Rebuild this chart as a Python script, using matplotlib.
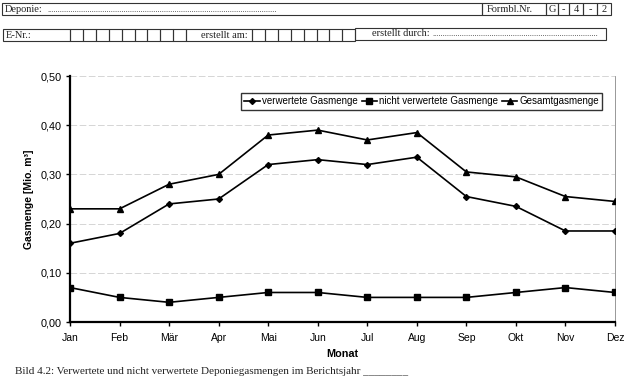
import matplotlib
matplotlib.use("Agg")
import matplotlib.pyplot as plt
from matplotlib.patches import Rectangle

months = ["Jan", "Feb", "Mär", "Apr", "Mai", "Jun", "Jul", "Aug", "Sep", "Okt", "Nov", "Dez"]
verwertet = [0.16, 0.18, 0.24, 0.25, 0.32, 0.33, 0.32, 0.335, 0.255, 0.235, 0.185, 0.185]
nicht_verwertet = [0.07, 0.05, 0.04, 0.05, 0.06, 0.06, 0.05, 0.05, 0.05, 0.06, 0.07, 0.06]
gesamt = [0.23, 0.23, 0.28, 0.30, 0.38, 0.39, 0.37, 0.385, 0.305, 0.295, 0.255, 0.245]
y_ticks = [0.0, 0.1, 0.2, 0.3, 0.4, 0.5]
y_tick_labels = ["0,00", "0,10", "0,20", "0,30", "0,40", "0,50"]
series_labels = ["verwertete Gasmenge", "nicht verwertete Gasmenge", "Gesamtgasmenge"]
code_cells = ["G", "-", "4", "-", "2"]

W, H = 628, 383
fig = plt.figure(figsize=(W / 100, H / 100), dpi=100)
fig.patch.set_facecolor("white")

SANS = "Liberation Sans"
SERIF = "Liberation Serif"

# ---------- header form (overlay in pixel coordinates) ----------
hd = fig.add_axes([0, 0, 1, 1], zorder=0)
hd.set_xlim(0, W)
hd.set_ylim(H, 0)
hd.axis("off")
ec = "#333333"

def box(x0, y0, x1, y1, lw=0.8):
    hd.add_patch(Rectangle((x0, y0), x1 - x0, y1 - y0, fill=False, ec=ec, lw=lw))

# row 1
box(2, 3, 482, 15)
hd.text(5, 9.5, "Deponie:", fontsize=7.5, family=SERIF, va="center", ha="left", color="#222222")
hd.text(47, 9.5, "." * 108, fontsize=6, family=SERIF, va="center", ha="left", color="#444444")
box(482, 3, 546, 15)
hd.text(487, 9.5, "Formbl.Nr.", fontsize=7.5, family=SERIF, va="center", ha="left", color="#222222")
cell_edges = [546, 558, 569, 583, 597, 611]
for i, c in enumerate(code_cells):
    box(cell_edges[i], 3, cell_edges[i + 1], 15)
    hd.text((cell_edges[i] + cell_edges[i + 1]) / 2, 9.5, c, fontsize=7.5, family=SERIF,
            va="center", ha="center", color="#222222")

# row 2
box(3, 29, 70, 41)
hd.text(6, 35, "E-Nr.:", fontsize=7.5, family=SERIF, va="center", ha="left", color="#222222")
for i in range(9):
    box(70 + i * 12.9, 29, 70 + (i + 1) * 12.9, 41)
box(186, 29, 252, 41)
hd.text(248, 35, "erstellt am:", fontsize=7.5, family=SERIF, va="center", ha="right", color="#222222")
for i in range(8):
    box(252 + i * 12.9, 29, 252 + (i + 1) * 12.9, 41)
box(355, 28, 606, 40)
hd.text(372, 33.5, "erstellt durch:", fontsize=7.5, family=SERIF, va="center", ha="left", color="#222222")
hd.text(432, 33.5, "." * 78, fontsize=6, family=SERIF, va="center", ha="left", color="#444444")

# ---------- chart ----------
left, right, top, bottom = 70, 615, 76, 322
ax = fig.add_axes([left / W, 1 - bottom / H, (right - left) / W, (bottom - top) / H], zorder=2)
ax.patch.set_alpha(0)
x = list(range(len(months)))

ax.plot(x, verwertet, color="black", lw=1.2, marker="D", markersize=3, label=series_labels[0], zorder=3)
ax.plot(x, nicht_verwertet, color="black", lw=1.2, marker="s", markersize=4.5, label=series_labels[1], zorder=3)
ax.plot(x, gesamt, color="black", lw=1.2, marker="^", markersize=4.5, label=series_labels[2], zorder=3)

ax.set_xlim(0, len(months) - 1)
ax.set_ylim(0, 0.5)
ax.set_yticks(y_ticks)
ax.set_yticklabels(y_tick_labels, fontsize=7.8, family=SANS)
ax.set_xticks(x)
ax.set_xticklabels(months, fontsize=7.5, family=SANS)
ax.tick_params(axis="both", direction="out", length=3, width=1, color="black")
ax.tick_params(axis="x", pad=5)
ax.tick_params(axis="y", pad=3)
ax.grid(axis="y", color="#cfcfcf", lw=0.6, ls=(0, (8, 3)))
ax.set_axisbelow(True)

ax.spines["top"].set_visible(False)
ax.spines["left"].set_linewidth(1.6)
ax.spines["bottom"].set_linewidth(1.6)
ax.spines["right"].set_linewidth(0.6)
ax.spines["right"].set_color("#888888")

ax.set_ylabel("Gasmenge [Mio. m³]", fontsize=7.5, fontweight="bold", family=SANS, labelpad=5)
ax.set_xlabel("Monat", fontsize=7.8, fontweight="bold", family=SANS, labelpad=4)

leg = ax.legend(loc="upper left", bbox_to_anchor=((241 - left) / (right - left), 1 - (93 - top) / (bottom - top)),
                ncol=3, prop={"family": SANS, "size": 7}, frameon=True, fancybox=False,
                edgecolor="black", handlelength=1.6, handletextpad=0.2, columnspacing=0.4,
                borderpad=0.35, borderaxespad=0)
leg.get_frame().set_linewidth(1.0)

# ---------- caption ----------
fig.text(15 / W, 1 - 371 / H, "Bild 4.2: Verwertete und nicht verwertete Deponiegasmengen im Berichtsjahr ________",
         fontsize=8, family=SERIF, va="center", ha="left", color="#222222")

fig.savefig("out.png", dpi=100)
